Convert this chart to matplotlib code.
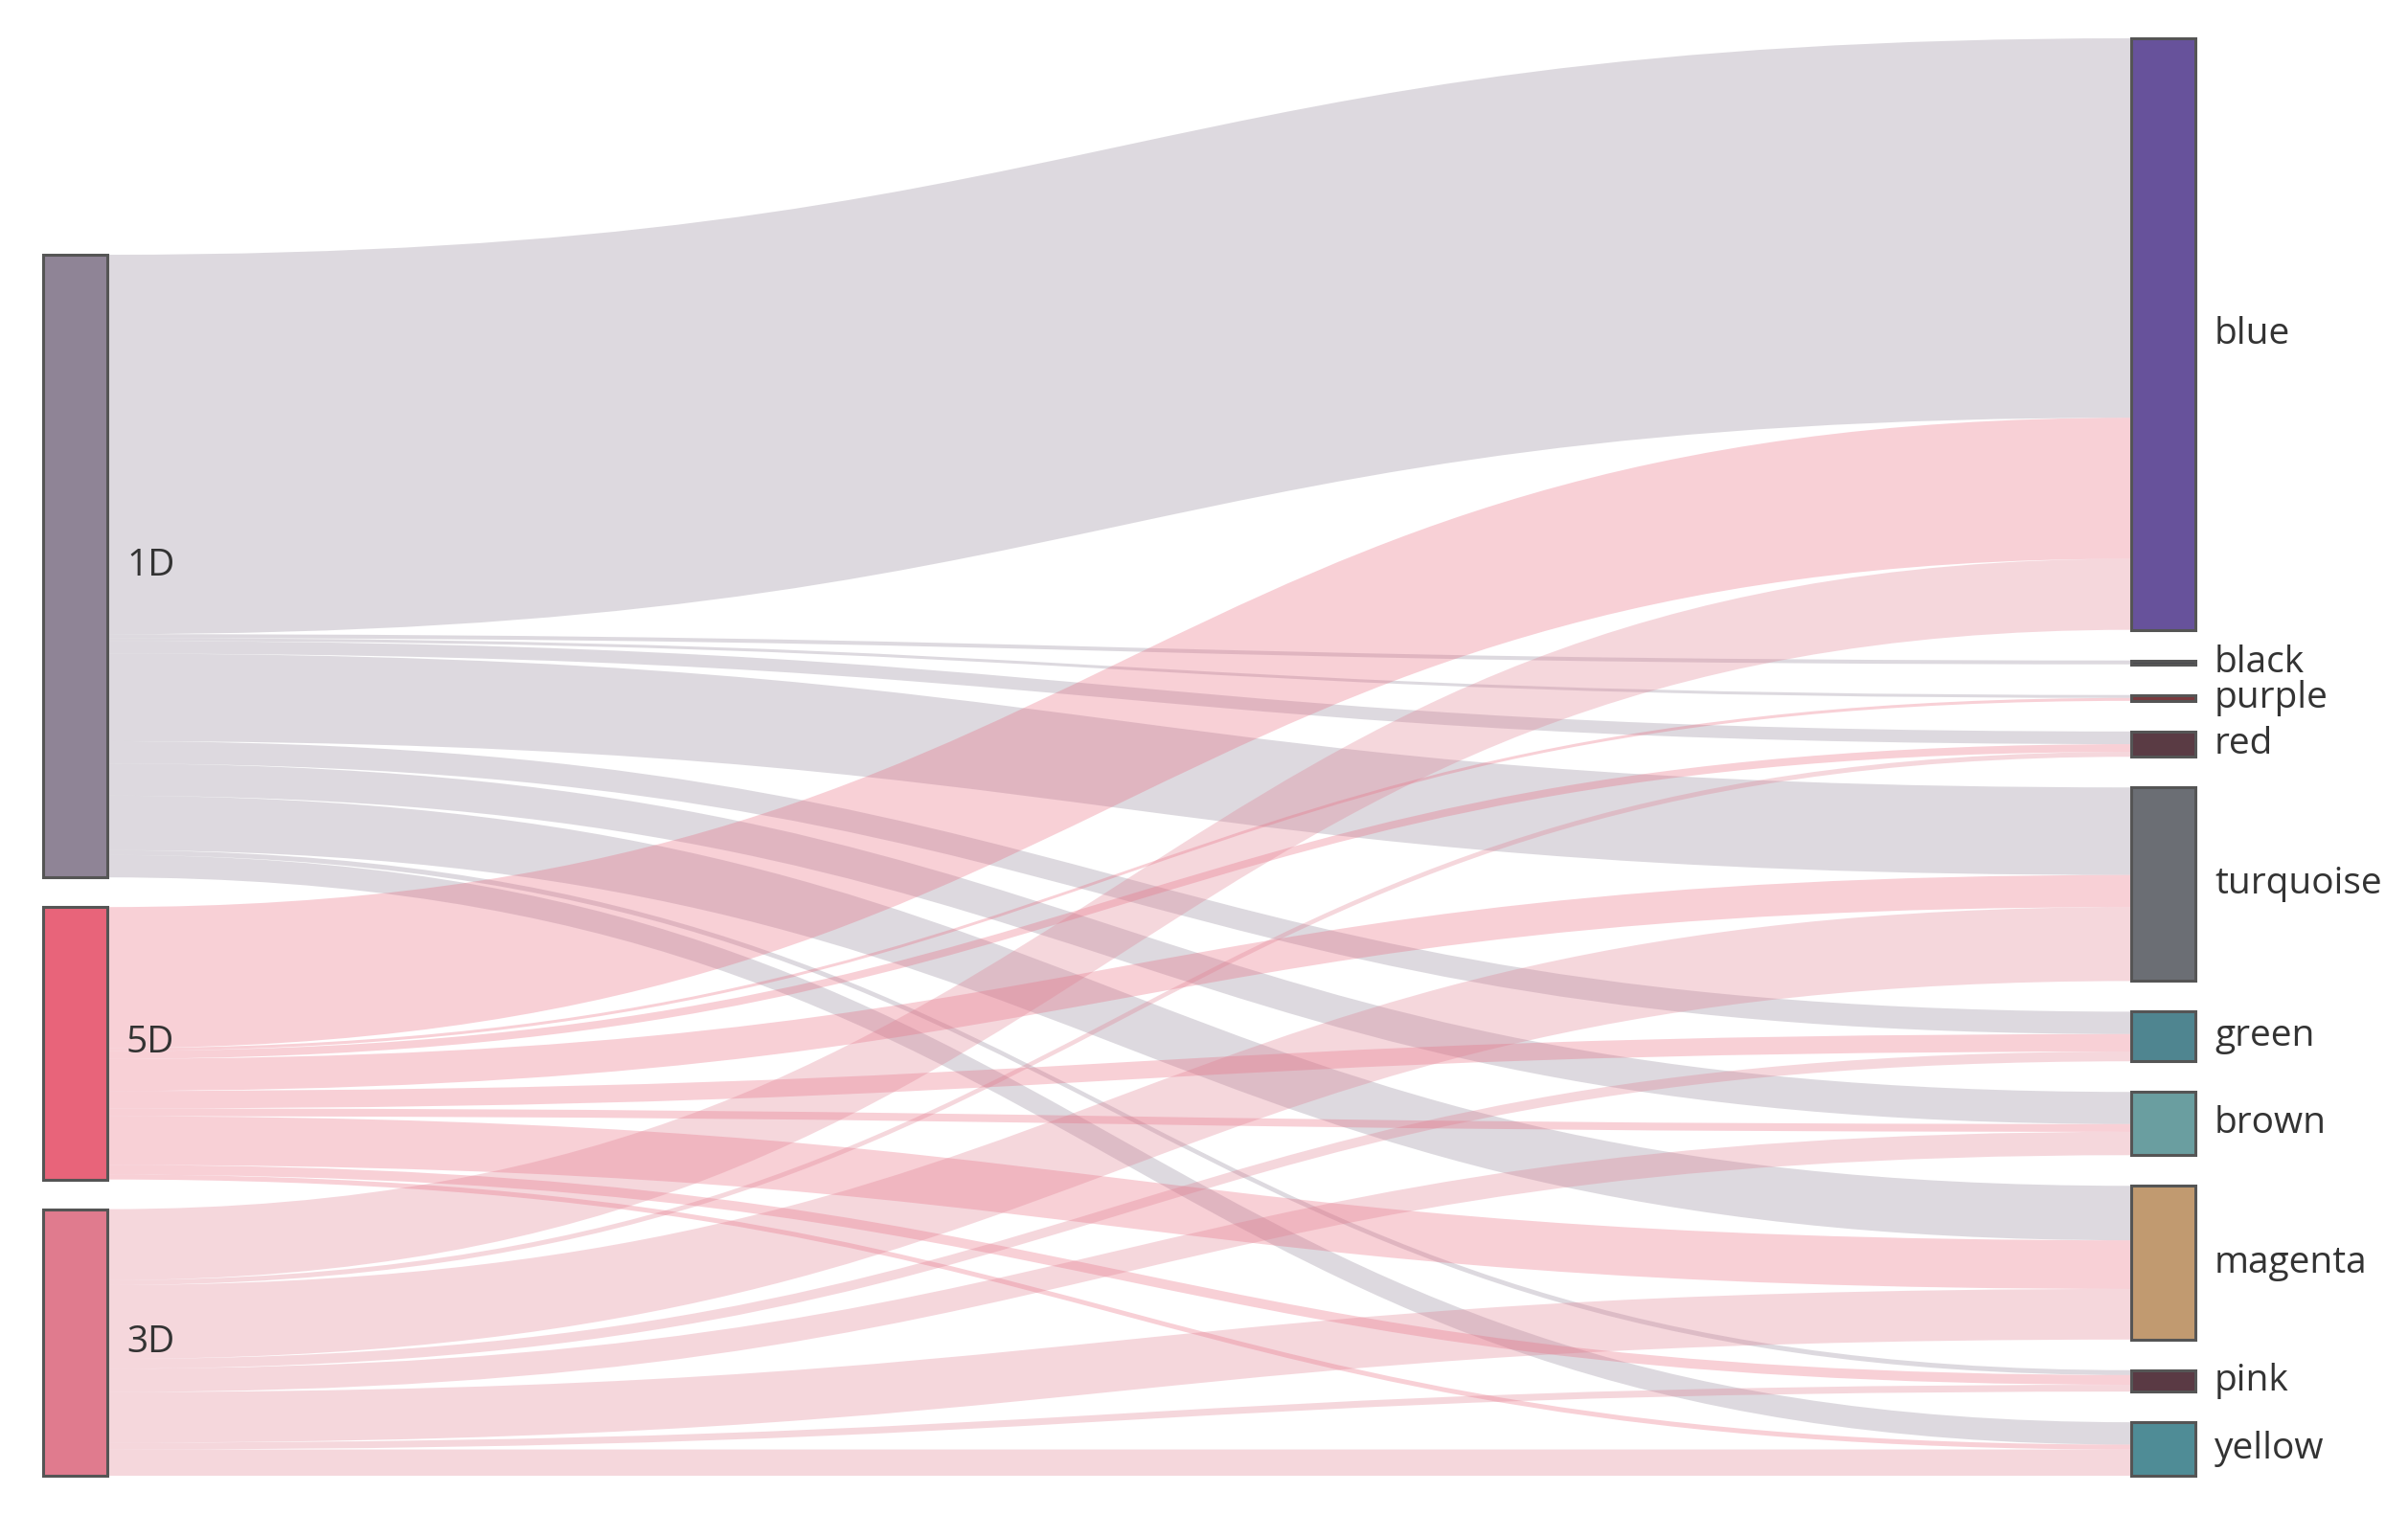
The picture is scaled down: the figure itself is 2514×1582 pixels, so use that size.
import matplotlib
matplotlib.use("Agg")
import matplotlib.pyplot as plt
from matplotlib.path import Path
from matplotlib.patches import PathPatch, Rectangle

# ---------------- data ----------------
sources = ["1D", "5D", "3D"]
targets = ["blue", "black", "purple", "red", "turquoise",
           "green", "brown", "magenta", "pink", "yellow"]

flow_1D = [390, 4, 3, 13, 90, 23, 33, 56, 5, 23]
flow_5D = [145, 0, 3, 8, 33, 18, 8, 50, 10, 5]
flow_3D = [73, 0, 0, 5, 76, 10, 24, 52, 7, 27]

source_colors = ["#8f8496", "#e8647a", "#e07b8e"]
target_colors = ["#67529b", "#4a4a50", "#7a3a3e", "#5a3b44", "#6b6e74",
                 "#4f8590", "#6a9ea0", "#c19a70", "#5a3a44", "#4f8c96"]

flows = [flow_1D, flow_5D, flow_3D]

# ---------------- layout ----------------
W, H = 2514, 1582
fig = plt.figure(figsize=(W / 100, H / 100), dpi=100)
ax = fig.add_axes([0, 0, 1, 1])
ax.set_xlim(0, W)
ax.set_ylim(H, 0)
ax.axis("off")

x_left0, x_left1 = 45, 112
x_right0, x_right1 = 2225, 2292
top, bottom, gap = 40, 1541, 32

src_tot = [sum(f) for f in flows]
tgt_tot = [sum(flows[i][j] for i in range(len(sources))) for j in range(len(targets))]
k = (bottom - top - gap * (len(targets) - 1)) / sum(tgt_tot)

# right column positions
tgt_y = []
y = top
for t in tgt_tot:
    tgt_y.append(y)
    y += t * k + gap

# left column: bottom aligned
left_gap = 31
left_span = sum(src_tot) * k + left_gap * (len(sources) - 1)
src_y = []
y = bottom - left_span
for s in src_tot:
    src_y.append(y)
    y += s * k + left_gap

# ---------------- links ----------------
tgt_start = {}
for j in range(len(targets)):
    yy = tgt_y[j]
    for i in range(len(sources)):
        tgt_start[(i, j)] = yy
        yy += flows[i][j] * k
xm = (x_left1 + x_right0) / 2
for i in range(len(sources)):
    yy = src_y[i]
    for j in range(len(targets)):
        v = flows[i][j]
        if v <= 0:
            continue
        h = v * k
        y0t, y0b = yy, yy + h
        y1t = tgt_start[(i, j)]
        y1b = y1t + h
        verts = [(x_left1, y0t), (xm, y0t), (xm, y1t), (x_right0, y1t),
                 (x_right0, y1b), (xm, y1b), (xm, y0b), (x_left1, y0b),
                 (x_left1, y0t)]
        codes = [Path.MOVETO, Path.CURVE4, Path.CURVE4, Path.CURVE4,
                 Path.LINETO, Path.CURVE4, Path.CURVE4, Path.CURVE4,
                 Path.CLOSEPOLY]
        ax.add_patch(PathPatch(Path(verts, codes), facecolor=source_colors[i],
                               alpha=0.3, edgecolor="none", zorder=1))
        yy += h

# ---------------- nodes ----------------
font = dict(family=["Open Sans", "DejaVu Sans"], fontsize=28, color="#333333")
for i, name in enumerate(sources):
    h = src_tot[i] * k
    ax.add_patch(Rectangle((x_left0, src_y[i]), x_left1 - x_left0, h,
                           facecolor=source_colors[i], edgecolor="#555555",
                           linewidth=2.2, zorder=3))
    ax.text(x_left1 + 20, src_y[i] + h / 2, name, ha="left", va="center",
            zorder=4, **font)

for j, name in enumerate(targets):
    h = tgt_tot[j] * k
    ax.add_patch(Rectangle((x_right0, tgt_y[j]), x_right1 - x_right0, h,
                           facecolor=target_colors[j], edgecolor="#555555",
                           linewidth=2.2, zorder=3))
    ax.text(x_right1 + 20, tgt_y[j] + h / 2, name, ha="left", va="center",
            zorder=4, **font)

fig.savefig("out.png", dpi=100, facecolor="white")
